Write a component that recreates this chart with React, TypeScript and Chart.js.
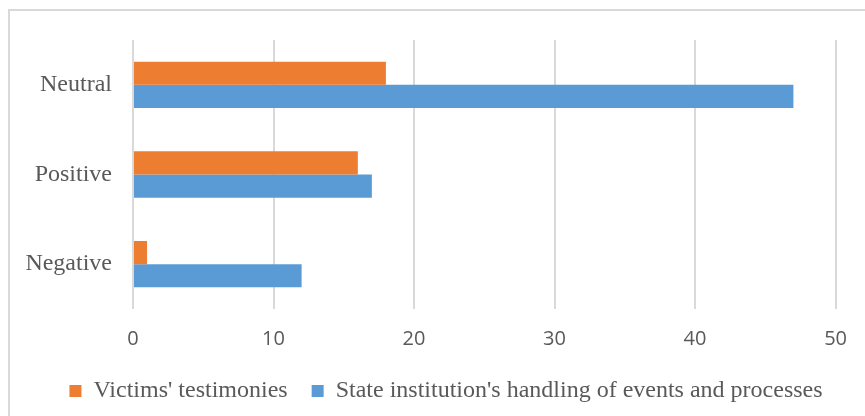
import React, { useEffect, useRef } from "react";
import { Chart, registerables } from "chart.js";

Chart.register(...registerables);

const categories = ["Neutral", "Positive", "Negative"];
const victimsTestimonies = [18, 16, 1];
const stateHandling = [47, 17, 12];
const seriesNames = ["Victims' testimonies", "State institution's handling of events and processes"];
const xTicks = [0, 10, 20, 30, 40, 50];

// Shift the legend block slightly right, like the original (Excel) layout.
const legendShift = {
  id: "legendShift",
  afterLayout(chart: any) {
    const l = chart.legend;
    if (l) {
      l.left += 20;
      l.right += 20;
    }
  },
};

export default function App() {
  const ref = useRef<HTMLCanvasElement | null>(null);

  useEffect(() => {
    if (!ref.current) return;
    const chart = new Chart(ref.current, {
      type: "bar",
      data: {
        labels: categories,
        datasets: [
          {
            label: seriesNames[0],
            data: victimsTestimonies,
            backgroundColor: "#ED7D31",
            categoryPercentage: 0.517,
            barPercentage: 1,
          },
          {
            label: seriesNames[1],
            data: stateHandling,
            backgroundColor: "#5B9BD5",
            categoryPercentage: 0.517,
            barPercentage: 1,
          },
        ],
      },
      plugins: [legendShift],
      options: {
        indexAxis: "y",
        responsive: false,
        animation: false,
        devicePixelRatio: 1,
        layout: { padding: { top: 40, right: 28, left: 15, bottom: 3 } },
        plugins: {
          legend: {
            position: "bottom",
            labels: {
              boxWidth: 12,
              boxHeight: 12,
              padding: 24,
              color: "#595959",
              font: { family: "'Liberation Serif', 'Times New Roman', serif", size: 24 },
            },
          },
          tooltip: { enabled: false },
        },
        scales: {
          x: {
            min: xTicks[0],
            max: xTicks[xTicks.length - 1],
            ticks: {
              stepSize: 10,
              padding: 18,
              color: "#595959",
              font: { family: "'Open Sans', 'Liberation Sans', sans-serif", size: 20 },
            },
            grid: { color: "#d9d9d9", lineWidth: 2, drawTicks: false },
            border: { display: false },
            afterFit: (scale: any) => {
              scale.height = 46;
            },
          },
          y: {
            ticks: {
              padding: 21,
              color: "#595959",
              font: { family: "'Liberation Serif', 'Times New Roman', serif", size: 24 },
            },
            grid: { display: false, drawTicks: false },
            border: { display: false },
            afterFit: (scale: any) => {
              scale.width = 118;
            },
          },
        },
      },
    });
    return () => chart.destroy();
  }, []);

  return (
    <div style={{ position: "fixed", left: 0, top: 0, width: 865, height: 416, overflow: "hidden", background: "#fff" }}>
      <div
        style={{
          position: "absolute",
          left: 8,
          top: 9,
          width: 900,
          height: 500,
          border: "2px solid #d9d9d9",
        }}
      />
      <canvas ref={ref} width={865} height={416} style={{ position: "absolute", left: 0, top: 0, width: 865, height: 416 }} />
    </div>
  );
}
